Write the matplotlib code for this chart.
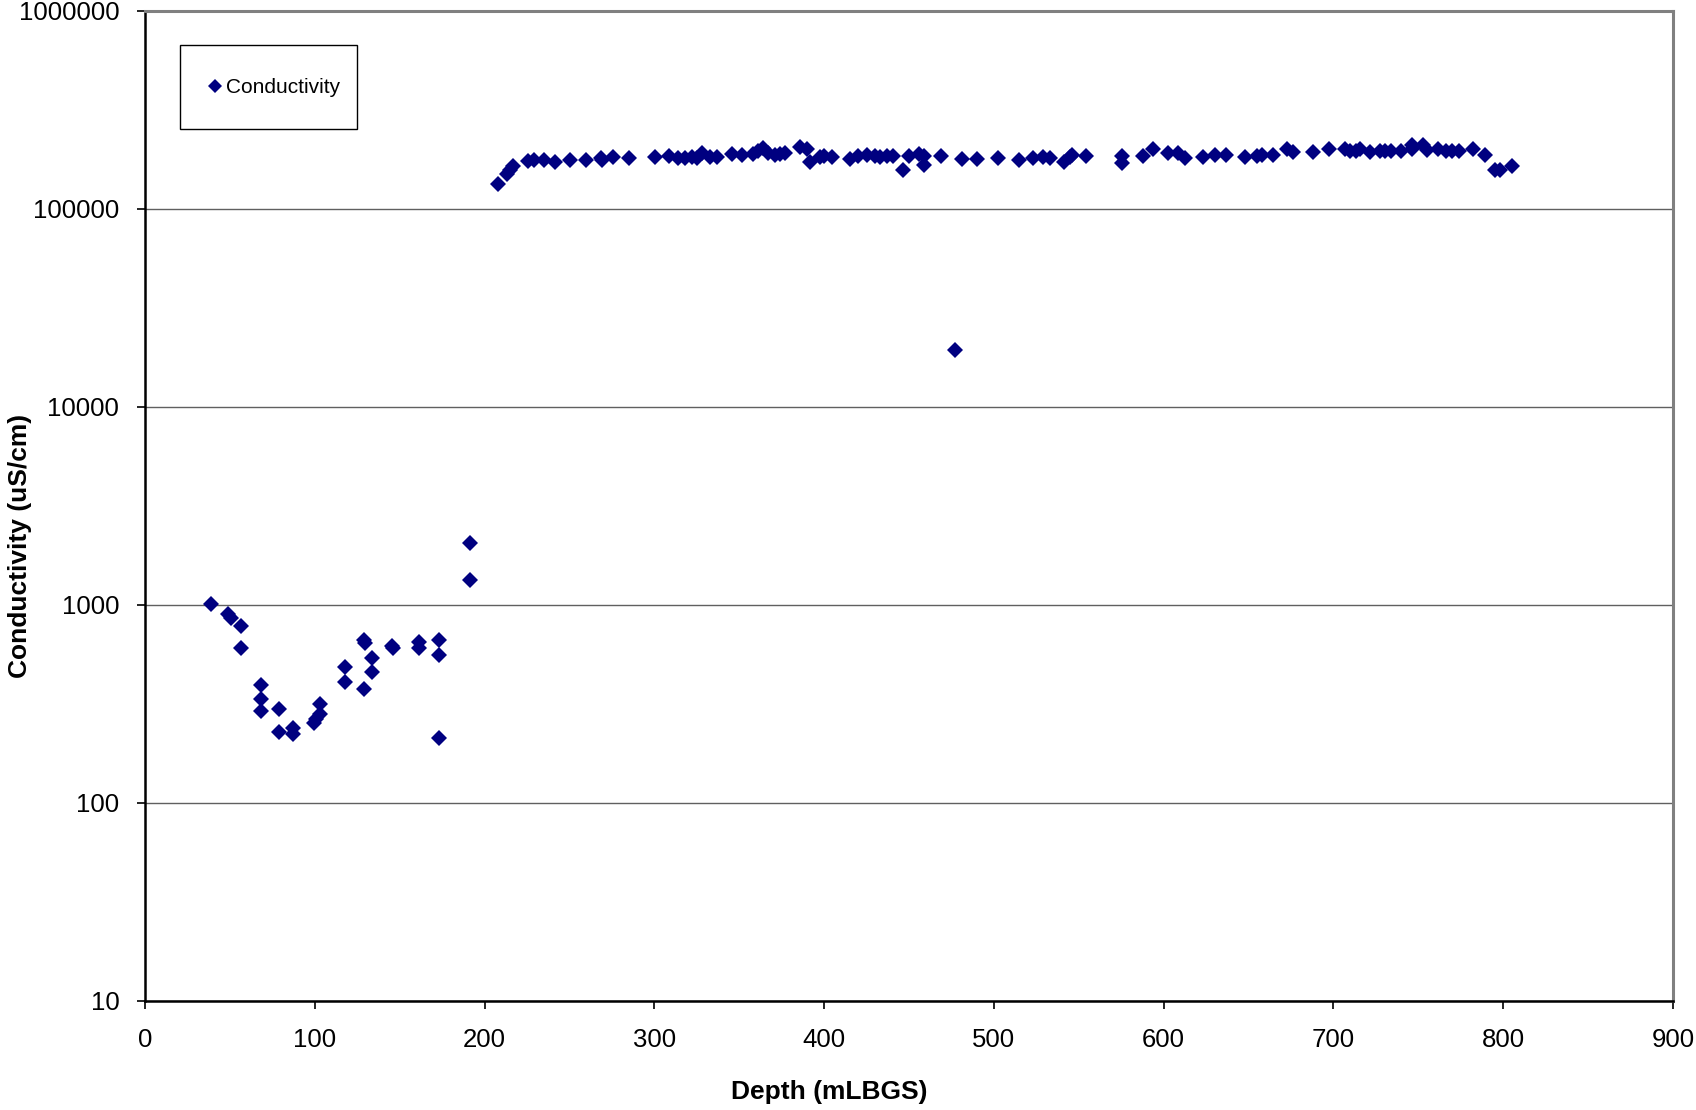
import matplotlib
matplotlib.use("Agg")
import matplotlib.pyplot as plt
from matplotlib.patches import Rectangle
from matplotlib.ticker import FixedLocator, FixedFormatter, NullLocator

plt.rcParams['font.family'] = ['Liberation Sans', 'DejaVu Sans']

# shallow part (mLBGS, uS/cm)
depth_low = [38.7, 49.0, 50.5, 56.5, 56.5, 68.1, 68.1, 68.1, 79.1, 79.1,
             87.0, 87.0, 99.3, 100.5, 103.3, 103.3, 118.0, 118.0, 129.2, 129.8,
             129.2, 133.5, 133.5, 145.7, 146.0, 161.2, 161.2, 173.0, 173.0, 173.0,
             191.2, 191.2]
cond_low = [1010, 900, 860, 783, 607, 393, 336, 292, 299, 229,
            238, 223, 253, 265, 316, 281, 488, 408, 665, 645,
            375, 540, 459, 622, 603, 653, 604, 665, 561, 213,
            2065, 1334]

# deep part
depth_high = [208.1, 213.0, 215.0, 216.9, 225.8, 229.0, 235.0, 241.5, 250.3, 259.7,
              268.4, 269.0, 275.8, 285.3, 300.4, 308.8, 314.0, 318.0, 322.0, 325.0,
              327.9, 332.8, 336.7, 345.5, 351.4, 357.9, 361.2, 364.2, 367.0, 371.0,
              374.0, 377.0, 385.8, 389.7, 391.7, 397.6, 400.0, 404.4, 415.2, 420.0,
              425.0, 430.0, 433.0, 437.0, 440.7, 446.6, 450.2, 456.0, 459.0, 458.8,
              468.7, 477.1, 481.0, 489.8, 502.2, 514.8, 523.2, 529.1, 533.0, 541.3,
              544.7, 546.0, 554.3, 575.6, 575.6, 587.6, 593.9, 602.7, 608.5, 612.6,
              623.3, 630.0, 636.7, 648.0, 655.0, 658.0, 664.2, 672.4, 676.4, 688.2,
              697.6, 706.8, 710.0, 713.0, 715.5, 721.5, 727.4, 730.5, 734.0, 739.6,
              746.0, 746.5, 752.5, 755.0, 761.8, 766.5, 770.0, 774.0, 782.4, 789.3,
              795.1, 798.0, 805.0]
cond_high = [134000, 151000, 158000, 164000, 175000, 177000, 176000, 172000, 176000, 176000,
             181000, 176000, 184000, 181000, 184000, 185000, 182000, 182000, 184000, 181000,
             191000, 184000, 184000, 190000, 188000, 190000, 197000, 203000, 192000, 187000,
             190000, 192000, 206000, 200000, 173000, 184000, 185000, 184000, 178000, 186000,
             187000, 185000, 183000, 186000, 186000, 157000, 186000, 190000, 185000, 167000,
             185000, 19300, 178000, 178000, 181000, 176000, 181000, 184000, 180000, 173000,
             184000, 188000, 185000, 185000, 170000, 185000, 200000, 191000, 191000, 181000,
             184000, 187000, 188000, 183000, 186000, 187000, 188000, 200000, 195000, 195000,
             200000, 200000, 196000, 196000, 200000, 194000, 197000, 196000, 196000, 197000,
             210000, 202000, 210000, 198000, 200000, 196000, 196000, 196000, 200000, 187000,
             158000, 157000, 164000]

depth = depth_low + depth_high
cond = cond_low + cond_high

y_ticks = [10, 100, 1000, 10000, 100000, 1000000]
x_ticks = [0, 100, 200, 300, 400, 500, 600, 700, 800, 900]

W, H = 1696, 1110
fig = plt.figure(figsize=(W / 100, H / 100), dpi=100)
ax = fig.add_axes([145 / W, 109 / H, 1528 / W, 990 / H])

ax.plot(depth, cond, linestyle='none', marker='D', markersize=8.2,
        color='#000080', markeredgewidth=0, label='Conductivity', zorder=3)

ax.set_yscale('log')
ax.set_ylim(10, 1000000)
ax.set_xlim(0, 900)

ax.yaxis.set_major_locator(FixedLocator(y_ticks))
ax.yaxis.set_major_formatter(FixedFormatter([str(v) for v in y_ticks]))
ax.yaxis.set_minor_locator(NullLocator())
ax.set_xticks(x_ticks)
ax.set_xticklabels([str(v) for v in x_ticks])

ax.grid(True, axis='y', color='#606060', linewidth=1.0)
ax.set_axisbelow(True)

for side in ['left', 'bottom']:
    ax.spines[side].set_color('#000000')
    ax.spines[side].set_linewidth(1.8)
for side in ['top', 'right']:
    ax.spines[side].set_color('#808080')
    ax.spines[side].set_linewidth(2.2)

ax.tick_params(axis='both', direction='out', length=5.5, width=1.2,
               color='#000000', labelsize=18.5)
ax.tick_params(axis='y', pad=13)
ax.tick_params(axis='x', pad=14)

# axis titles placed like the Excel original
fig.text(829 / W, 1 - 1092 / H, 'Depth (mLBGS)', fontsize=19, fontweight='bold',
         ha='center', va='center')
fig.text(20 / W, 1 - 546 / H, 'Conductivity (uS/cm)', fontsize=19, fontweight='bold',
         ha='center', va='center', rotation=90)

# legend box
ax.add_patch(Rectangle((180 / W, 1 - 129 / H), 177 / W, 84 / H,
                       transform=fig.transFigure, facecolor='white',
                       edgecolor='#000000', linewidth=1.0, zorder=4,
                       clip_on=False))
leg = ax.legend(loc='center left', bbox_to_anchor=(208 / W, 1 - 87.5 / H),
                bbox_transform=fig.transFigure, borderaxespad=0, borderpad=0,
                fontsize=15, frameon=False, handlelength=0.7,
                handletextpad=0.15, markerscale=0.85)
leg.set_zorder(6)

fig.savefig('out.png', dpi=100)
